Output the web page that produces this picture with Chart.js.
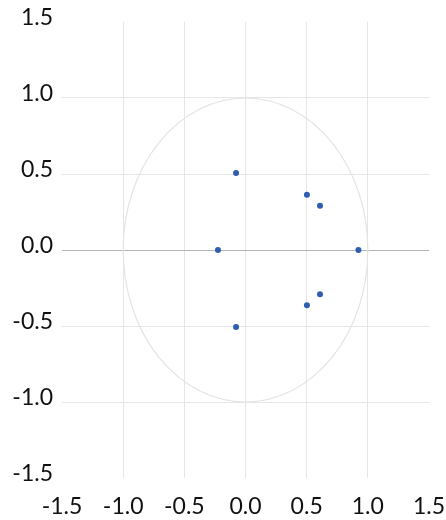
<!DOCTYPE html>
<html>
<head>
<meta charset="utf-8">
<script src="https://cdn.jsdelivr.net/npm/chart.js@4/dist/chart.umd.min.js"></script>
<style>
  html, body { margin: 0; padding: 0; background: #ffffff; }
  #wrap { width: 446px; height: 520px; position: relative; }
</style>
</head>
<body>
<div id="wrap"><canvas id="c" width="446" height="520"></canvas></div>
<script>
// Data
const pointsX = [-0.077, 0.502, 0.609, 0.923, -0.225, -0.077, 0.502, 0.609];
const pointsY = [0.507, 0.364, 0.291, 0.0, 0.0, -0.507, -0.364, -0.291];
const xTicks = [-1.5, -1.0, -0.5, 0.0, 0.5, 1.0, 1.5];
const yTicks = [-1.5, -1.0, -0.5, 0.0, 0.5, 1.0, 1.5];
const circleRadius = 1.0;

const points = pointsX.map((x, i) => ({ x: x, y: pointsY[i] }));

const FONT = { family: 'Lato, "Open Sans", sans-serif', size: 23 };

const unitCircle = {
  id: 'unitCircle',
  beforeDatasetsDraw(chart) {
    const xs = chart.scales.x, ys = chart.scales.y;
    const cx = xs.getPixelForValue(0), cy = ys.getPixelForValue(0);
    const rx = Math.abs(xs.getPixelForValue(circleRadius) - cx);
    const ry = Math.abs(ys.getPixelForValue(circleRadius) - cy);
    const ctx = chart.ctx;
    ctx.save();
    ctx.beginPath();
    ctx.ellipse(cx, cy, rx, ry, 0, 0, Math.PI * 2);
    ctx.strokeStyle = '#e4e4e4';
    ctx.lineWidth = 1.2;
    ctx.stroke();
    ctx.restore();
  }
};

new Chart(document.getElementById('c'), {
  type: 'scatter',
  data: {
    datasets: [{
      data: points,
      backgroundColor: '#2f5daf',
      borderColor: '#2f5daf',
      pointRadius: 3,
      pointHoverRadius: 3,
      borderWidth: 0
    }]
  },
  options: {
    responsive: false,
    animation: false,
    events: [],
    layout: { padding: { top: 22, right: 17, left: 0, bottom: 0 } },
    plugins: { legend: { display: false }, tooltip: { enabled: false } },
    scales: {
      x: {
        type: 'linear',
        min: -1.5, max: 1.5,
        afterBuildTicks: (s) => { s.ticks = xTicks.map(v => ({ value: v })); },
        afterFit: (s) => { s.height = 42; s.paddingLeft = 0; s.paddingRight = 0; },
        border: { display: false },
        grid: {
          drawTicks: false,
          color: (ctx) => (ctx.tick && Math.abs(ctx.tick.value) > 1.4) ? 'rgba(0,0,0,0)' : '#e6e6e6',
          lineWidth: 1
        },
        ticks: {
          padding: 15,
          color: '#111111',
          font: FONT,
          maxRotation: 0,
          autoSkip: false,
          callback: (v) => Number(v).toFixed(1)
        }
      },
      y: {
        type: 'linear',
        min: -1.5, max: 1.5,
        afterBuildTicks: (s) => { s.ticks = yTicks.map(v => ({ value: v })); },
        afterFit: (s) => { s.width = 62; s.paddingTop = 0; s.paddingBottom = 0; },
        border: { display: false },
        grid: {
          drawTicks: false,
          color: (ctx) => {
            if (!ctx.tick) return '#e6e6e6';
            if (Math.abs(ctx.tick.value) > 1.4) return 'rgba(0,0,0,0)';
            if (Math.abs(ctx.tick.value) < 1e-9) return '#b4b4b4';
            return '#e6e6e6';
          },
          lineWidth: 1
        },
        ticks: {
          padding: 9,
          labelOffset: -4,
          color: '#111111',
          font: FONT,
          autoSkip: false,
          callback: (v) => Number(v).toFixed(1)
        }
      }
    }
  },
  plugins: [unitCircle]
});
</script>
</body>
</html>
